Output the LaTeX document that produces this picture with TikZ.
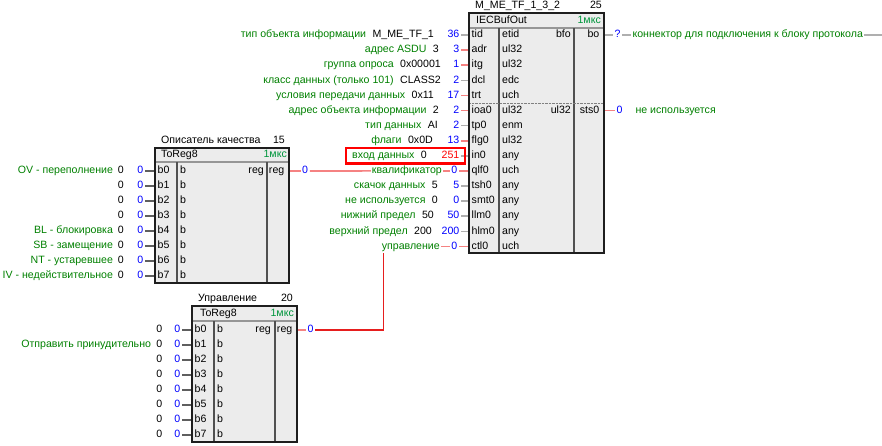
\documentclass[tikz,border=0pt]{standalone}
\usepackage{fontspec}
\setmainfont{Liberation Sans}
\usetikzlibrary{positioning}

\definecolor{lblgreen}{RGB}{0,128,0}
\definecolor{tmgreen}{RGB}{0,150,60}
\definecolor{valblue}{RGB}{0,0,255}
\definecolor{linkpink}{RGB}{245,130,130}
\definecolor{linkred}{RGB}{230,30,30}
\definecolor{pingray}{RGB}{175,175,175}
\definecolor{pindark}{RGB}{95,95,95}
\definecolor{blkfill}{RGB}{236,236,236}
\definecolor{blkline}{RGB}{30,30,30}
\definecolor{colline}{RGB}{80,80,80}
\definecolor{hdrline}{RGB}{150,150,150}

\newcommand{\blockbox}[2]% top left, bottom right
    {(#1) rectangle (#2)
}

\begin{document}
\begin{tikzpicture}[
    x=1pt, y=-1pt,
    every node/.style={font=\fontsize{10.6}{12.5}\selectfont, text height=8pt, text depth=2.5pt, inner sep=1pt},
    lbl/.style={text=lblgreen},
    val/.style={text=valblue, inner xsep=1.5pt},
    tm/.style={text=tmgreen},
    pinname/.style={anchor=west, inner xsep=2.5pt},
    rpin/.style={anchor=east, inner xsep=4.5pt},
    pinline/.style={pingray, line width=1.6pt},
    darkpin/.style={pindark, line width=1.2pt},
    pinkline/.style={linkpink, line width=1.6pt},
    redline/.style={linkred, line width=1.3pt},
    blkframe/.style={blkline, line width=1.5pt},
    colsep/.style={colline, line width=1.2pt},
    hdrsep/.style={hdrline, line width=1.5pt}
]
    \useasboundingbox (0,0) rectangle (882,445);

    % Block IECBufOut (M_ME_TF_1_3_2)
    \fill[blkfill] \blockbox{469,13}{604,253};
    \draw[hdrsep] (469,28) -- (604,28);
    \draw[colsep] (499,28) -- (499,253) (574,28) -- (574,253);
    \draw[gray, densely dotted] (469,103) -- (604,103);
    \node[anchor=west] (buf-name) at (474,6) {M\_ME\_TF\_1\_3\_2};
    \node[anchor=east] (buf-num) at (603,6) {25};
    \node[anchor=west] (buf-type) at (475,21) {IECBufOut};
    \node[tm, anchor=east] (buf-time) at (602,21) {1мкс};

    % Inputs set by constants
    \foreach \y/\p/\t/\c/\v/\k/\kx/\l in {
        35/tid/etid/pingray/36/M\_ME\_TF\_1/435/тип объекта информации,
        50.1/adr/ul32/linkpink/3/3/440/адрес ASDU,
        65.2/itg/ul32/linkpink/1/0x00001/442/группа опроса,
        80.3/dcl/edc/pingray/2/CLASS2/442/класс данных (только 101),
        95.4/trt/uch/linkpink/17/0x11/435/условия передачи данных,
        110.5/ioa0/ul32/linkpink/2/2/440/адрес объекта информации,
        125.6/tp0/enm/pingray/2/AI/439/тип данных,
        140.7/flg0/ul32/linkpink/13/0x0D/434/флаги,
        186/tsh0/any/pingray/5/5/439/скачок данных,
        201.1/smt0/any/pingray/0/0/439/не используется,
        216.2/llm0/any/pingray/50/50/435/нижний предел,
        231.3/hlm0/any/pingray/200/200/433/верхний предел}{
        \node[pinname] (\p) at (469,\y) {\p};
        \node[anchor=west] (t-\p) at (501,\y) {\t};
        \node[val, anchor=east] (v-\p) at (461,\y) {\v};
        \node[anchor=east] (k-\p) at (\kx,\y) {\k};
        \node[lbl, left=4pt of k-\p] (l-\p) {\l};
        \draw[\c, line width=1.6pt] (v-\p) -- (\p);
    }

    % Data input (highlighted)
    \node[pinname] (in0) at (469,155.8) {in0};
    \node[anchor=west] (t-in0) at (501,155.8) {any};
    \node[val, text=red, anchor=east] (v-in0) at (461,155.8) {251};
    \node[anchor=east] (k-in0) at (428,155.8) {0};
    \node[lbl, left=4pt of k-in0] (l-in0) {вход данных};
    \draw[pinline] (v-in0) -- (in0);
    \draw[red, line width=2.5pt] (346,148) rectangle (465,163.5);

    % Linked inputs
    \node[pinname] (qlf0) at (469,170.9) {qlf0};
    \node[anchor=west] (t-qlf0) at (501,170.9) {uch};
    \node[val, anchor=east] (v-qlf0) at (459,170.9) {0};
    \node[lbl, anchor=east] (l-qlf0) at (443,170.9) {квалификатор};
    \draw[pinkline] (l-qlf0) -- (v-qlf0) -- (qlf0);

    \node[pinname] (ctl0) at (469,246.4) {ctl0};
    \node[anchor=west] (t-ctl0) at (501,246.4) {uch};
    \node[val, anchor=east] (v-ctl0) at (459,246.4) {0};
    \node[lbl, anchor=east] (l-ctl0) at (441,246.4) {управление};
    \draw[pinkline] (l-ctl0) -- (v-ctl0) -- (ctl0);

    % Outputs
    \node[anchor=east] (t-bo) at (572,35) {bfo};
    \node[rpin] (bo) at (604,35) {bo};
    \node[val, anchor=west] (v-bo) at (613,35) {?};
    \node[lbl, right=9pt of v-bo] (l-bo) {коннектор для подключения к блоку протокола};
    \coordinate (bo-end) at (882,35);
    \draw[pinline] (bo) -- (v-bo) -- (l-bo) -- (bo-end);

    \node[anchor=east] (t-sts0) at (572,110.5) {ul32};
    \node[rpin] (sts0) at (604,110.5) {sts0};
    \node[val, anchor=west] (v-sts0) at (615,110.5) {0};
    \node[lbl, right=10pt of v-sts0] (l-sts0) {не используется};
    \draw[pinkline] (sts0) -- (v-sts0);

    \draw[blkframe] \blockbox{469,13}{604,253};

    % Block ToReg8 (quality descriptor)
    \fill[blkfill] \blockbox{155,148}{289,283};
    \draw[hdrsep] (155,162) -- (289,162);
    \draw[colsep] (177,162) -- (177,283) (267,162) -- (267,283);
    \node[anchor=west] (qual-name) at (160,141) {Описатель качества};
    \node[anchor=east] (qual-num) at (286,141) {15};
    \node[anchor=west] (qual-type) at (160,155) {ToReg8};
    \node[tm, anchor=east] (qual-time) at (288,155) {1мкс};
    \foreach \i in {0,...,7}{
        \node[pinname] (qual-b\i) at (155,{171+15*\i}) {b\i};
        \node[anchor=west] (qual-t\i) at (179,{171+15*\i}) {b};
        \node[val, anchor=east] (qual-v\i) at (145,{171+15*\i}) {0};
        \node[anchor=east] (qual-k\i) at (125,{171+15*\i}) {0};
        \draw[darkpin] (qual-v\i) -- (qual-b\i);
    }
    \foreach \i/\l in {0/OV - переполнение, 4/BL - блокировка, 5/SB - замещение,
        6/NT - устаревшее, 7/IV - недействительное}
        \node[lbl, left=2.5pt of qual-k\i] (qual-l\i) {\l};
    \node[anchor=east] (qual-out) at (265,171) {reg};
    \node[rpin] (qual-reg) at (289,171) {reg};
    \node[val, anchor=west] (qual-o) at (300.5,171) {0};
    \draw[pinkline] (qual-reg) -- (qual-o);
    \draw[pinkline] (qual-o) -- (l-qlf0);
    \draw[blkframe] \blockbox{155,148}{289,283};

    % Block ToReg8 (control)
    \fill[blkfill] \blockbox{192,306}{297,442};
    \draw[hdrsep] (192,321) -- (297,321);
    \draw[colsep] (214,321) -- (214,442) (275,321) -- (275,442);
    \node[anchor=west] (ctrl-name) at (197,298.5) {Управление};
    \node[anchor=east] (ctrl-num) at (294,298.5) {20};
    \node[anchor=west] (ctrl-type) at (199,314) {ToReg8};
    \node[tm, anchor=east] (ctrl-time) at (295,314) {1мкс};
    \foreach \i in {0,...,7}{
        \node[pinname] (ctrl-b\i) at (192,{330+15*\i}) {b\i};
        \node[anchor=west] (ctrl-t\i) at (216,{330+15*\i}) {b};
        \node[val, anchor=east] (ctrl-v\i) at (182,{330+15*\i}) {0};
        \node[anchor=east] (ctrl-k\i) at (163.5,{330+15*\i}) {0};
        \draw[darkpin] (ctrl-v\i) -- (ctrl-b\i);
    }
    \node[lbl, left=3pt of ctrl-k1] (ctrl-l1) {Отправить принудительно};
    \node[anchor=east] (ctrl-out) at (272,330) {reg};
    \node[rpin] (ctrl-reg) at (297,330) {reg};
    \node[val, anchor=west] (ctrl-o) at (306,330) {0};
    \draw[pinkline] (ctrl-reg) -- (ctrl-o);
    \draw[redline] (ctrl-o) -| ([xshift=3pt]l-ctl0.south west);
    \draw[blkframe] \blockbox{192,306}{297,442};

\end{tikzpicture}
\end{document}
